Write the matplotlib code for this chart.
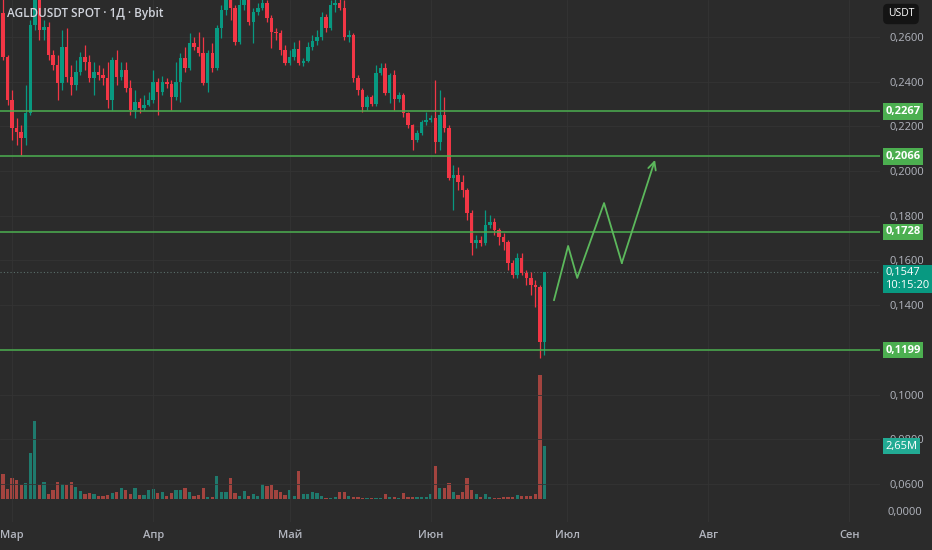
import numpy as np
import pandas as pd
import matplotlib
matplotlib.use('Agg')
import matplotlib.pyplot as plt
import matplotlib.transforms as mtransforms

plt.rcParams['font.family'] = ['Open Sans', 'DejaVu Sans']

# daily candles, AGLD/USDT, starting 28 Feb
start_date = '2024-02-28'
first_open = 0.2707
closes = [0.2510, 0.2318, 0.2193, 0.2175, 0.2148, 0.2260, 0.2654, 0.2801, 0.2631, 0.2645,
          0.2519, 0.2475, 0.2394, 0.2555, 0.2421, 0.2385, 0.2443, 0.2510, 0.2488, 0.2417,
          0.2443, 0.2430, 0.2417, 0.2318, 0.2497, 0.2421, 0.2452, 0.2372, 0.2273, 0.2309,
          0.2282, 0.2296, 0.2318, 0.2399, 0.2354, 0.2399, 0.2390, 0.2332, 0.2399, 0.2506,
          0.2461, 0.2573, 0.2555, 0.2528, 0.2394, 0.2528, 0.2461, 0.2640, 0.2721, 0.2774,
          0.2730, 0.2578, 0.2743, 0.2801, 0.2667, 0.2712, 0.2730, 0.2752, 0.2685, 0.2622,
          0.2618, 0.2542, 0.2484, 0.2510, 0.2546, 0.2484, 0.2493, 0.2555, 0.2582, 0.2600,
          0.2689, 0.2640, 0.2743, 0.2752, 0.2730, 0.2600, 0.2609, 0.2417, 0.2363, 0.2287,
          0.2332, 0.2300, 0.2439, 0.2461, 0.2349, 0.2430, 0.2323, 0.2340, 0.2260, 0.2206,
          0.2139, 0.2170, 0.2220, 0.2229, 0.2238, 0.2130, 0.2251, 0.2193, 0.1969, 0.1983,
          0.1951, 0.1915, 0.1813, 0.1678, 0.1692, 0.1678, 0.1759, 0.1772, 0.1736, 0.1705,
          0.1683, 0.1589, 0.1535, 0.1611, 0.1544, 0.1522, 0.1490, 0.1481, 0.1235, 0.1547]
highs = [0.2788, 0.2519, 0.2363, 0.2238, 0.2206, 0.2385, 0.2676, 0.2855, 0.2833, 0.2676,
         0.2667, 0.2542, 0.2519, 0.2631, 0.2640, 0.2475, 0.2497, 0.2533, 0.2564, 0.2519,
         0.2488, 0.2475, 0.2461, 0.2488, 0.2510, 0.2542, 0.2488, 0.2488, 0.2408, 0.2363,
         0.2327, 0.2340, 0.2354, 0.2452, 0.2417, 0.2425, 0.2417, 0.2408, 0.2488, 0.2528,
         0.2555, 0.2618, 0.2600, 0.2622, 0.2600, 0.2542, 0.2573, 0.2654, 0.2743, 0.2810,
         0.2819, 0.2743, 0.2810, 0.2855, 0.2833, 0.2730, 0.2752, 0.2774, 0.2766, 0.2698,
         0.2640, 0.2631, 0.2564, 0.2542, 0.2578, 0.2587, 0.2506, 0.2578, 0.2609, 0.2631,
         0.2712, 0.2703, 0.2766, 0.2779, 0.2774, 0.2766, 0.2631, 0.2618, 0.2430, 0.2372,
         0.2340, 0.2340, 0.2475, 0.2484, 0.2484, 0.2439, 0.2452, 0.2354, 0.2349, 0.2264,
         0.2211, 0.2184, 0.2229, 0.2264, 0.2251, 0.2408, 0.2363, 0.2332, 0.2206, 0.2027,
         0.2018, 0.1983, 0.1924, 0.1826, 0.1714, 0.1710, 0.1826, 0.1804, 0.1790, 0.1745,
         0.1723, 0.1692, 0.1602, 0.1634, 0.1634, 0.1558, 0.1549, 0.1513, 0.1490, 0.1550]
lows = [0.2497, 0.2296, 0.2139, 0.2117, 0.2072, 0.2117, 0.2251, 0.2631, 0.2587, 0.2587,
        0.2497, 0.2452, 0.2318, 0.2363, 0.2399, 0.2340, 0.2363, 0.2430, 0.2452, 0.2399,
        0.2340, 0.2408, 0.2385, 0.2282, 0.2273, 0.2385, 0.2408, 0.2354, 0.2251, 0.2238,
        0.2260, 0.2273, 0.2291, 0.2305, 0.2251, 0.2340, 0.2372, 0.2273, 0.2318, 0.2309,
        0.2443, 0.2452, 0.2542, 0.2515, 0.2385, 0.2354, 0.2443, 0.2452, 0.2596, 0.2698,
        0.2676, 0.2564, 0.2569, 0.2721, 0.2654, 0.2573, 0.2698, 0.2721, 0.2667, 0.2551,
        0.2587, 0.2519, 0.2475, 0.2475, 0.2497, 0.2475, 0.2470, 0.2488, 0.2542, 0.2564,
        0.2587, 0.2622, 0.2631, 0.2712, 0.2721, 0.2587, 0.2578, 0.2399, 0.2340, 0.2264,
        0.2273, 0.2291, 0.2291, 0.2430, 0.2340, 0.2305, 0.2273, 0.2309, 0.2242, 0.2193,
        0.2094, 0.2130, 0.2162, 0.2206, 0.2220, 0.2081, 0.2094, 0.2175, 0.1960, 0.1826,
        0.1915, 0.1884, 0.1781, 0.1625, 0.1656, 0.1665, 0.1669, 0.1745, 0.1714, 0.1669,
        0.1647, 0.1558, 0.1522, 0.1522, 0.1535, 0.1490, 0.1446, 0.1392, 0.1164, 0.1177]
# volume in millions of AGLD
volumes = [1.25, 0.50, 1.05, 0.95, 0.70, 0.80, 2.30, 3.90, 0.70, 0.85,
           0.25, 0.45, 0.85, 0.75, 0.70, 0.85, 0.60, 0.40, 0.25, 0.30,
           0.25, 0.15, 0.15, 0.20, 0.30, 0.35, 0.55, 0.45, 0.25, 0.55,
           0.20, 0.20, 0.45, 0.50, 0.30, 0.35, 0.15, 0.30, 0.45, 0.45,
           0.55, 0.35, 0.15, 0.20, 0.55, 0.10, 0.10, 1.15, 0.35, 0.35,
           1.05, 0.30, 0.15, 0.40, 0.15, 0.25, 0.15, 0.75, 0.65, 0.70,
           0.45, 0.35, 0.20, 0.45, 0.15, 1.40, 0.25, 0.25, 0.35, 0.30,
           0.15, 0.05, 0.05, 0.10, 0.35, 0.35, 0.15, 0.10, 0.10, 0.05,
           0.05, 0.05, 0.05, 0.05, 0.25, 0.10, 0.10, 0.05, 0.30, 0.10,
           0.10, 0.10, 0.10, 0.10, 0.25, 1.65, 0.55, 0.55, 0.80, 0.35,
           0.20, 0.35, 1.05, 0.45, 0.25, 0.10, 0.25, 0.10, 0.05, 0.05,
           0.10, 0.10, 0.10, 0.20, 0.15, 0.15, 0.15, 0.25, 6.20, 2.65]

levels = [0.2267, 0.2066, 0.1728, 0.1199]
last_price = 0.1547
countdown = '10:15:20'
volume_label = '2,65M'
price_ticks = [0.26, 0.24, 0.22, 0.20, 0.18, 0.16, 0.14, 0.10, 0.08, 0.06]
month_labels = ['Мар', 'Апр', 'Май', 'Июн', 'Июл', 'Авг', 'Сен']

# hand-drawn forecast zigzag (day index, price)
path_days = [121.1, 124.2, 126.2, 132.1, 136.0, 143.3]
path_prices = [0.1423, 0.1665, 0.1522, 0.1857, 0.1589, 0.2050]

BG = '#2b2b2b'
GRID = '#343434'
UP, DOWN = '#089981', '#f23645'
VUP, VDOWN = '#1f7a6d', '#a3443f'
LEVEL = '#4caf50'
TXT = '#b2b5be'

def fmt(v):
    return f'{v:.4f}'.replace('.', ',')

dates = pd.date_range(start_date, periods=len(closes), freq='D')
x = np.arange(len(closes))
closes = np.array(closes)
opens = np.concatenate([[first_open], closes[:-1]])
rising = closes >= opens
body = closes - opens
body = np.where(np.abs(body) < 0.0003, np.where(rising, 0.0003, -0.0003), body)

fig = plt.figure(figsize=(9.32, 5.5), dpi=100)
fig.patch.set_facecolor(BG)
ax = fig.add_axes([0, 1 - 522 / 550, 880 / 932, 522 / 550])
vol_ax = ax.twinx()
vol_ax.set_zorder(0)
ax.set_zorder(1)
ax.patch.set_visible(False)
vol_ax.patch.set_facecolor(BG)

# volume
vol_ax.bar(x, volumes, width=0.72, color=np.where(rising, VUP, VDOWN), linewidth=0)
vol_ax.set_ylim(-1.15, 24.95)
vol_ax.set_yticks([])

# candles
colors = np.where(rising, UP, DOWN)
ax.vlines(x, lows, highs, colors=colors, linewidth=0.9, zorder=3)
ax.bar(x, body, bottom=opens, width=0.76, color=colors, linewidth=0, zorder=4)

ax.set_xlim(-3 / 4.55, 877 / 4.55)
ax.set_ylim(0.0430, 0.27655)

month_starts = pd.date_range('2024-03-01', periods=len(month_labels), freq='MS')
ax.set_xticks([(d - dates[0]).days for d in month_starts])
ax.set_xticklabels(month_labels)
ax.yaxis.tick_right()
ax.set_yticks(price_ticks)
ax.set_yticklabels([fmt(v) for v in price_ticks])
ax.tick_params(axis='both', length=0, colors=TXT, labelsize=8)
ax.tick_params(axis='y', pad=7)
ax.tick_params(axis='x', pad=6)
for lab in ax.get_xticklabels():
    lab.set_fontweight('semibold')
ax.grid(True, color=GRID, linewidth=0.6)
for a in (ax, vol_ax):
    for s in a.spines.values():
        s.set_visible(False)

right = mtransforms.blended_transform_factory(ax.transAxes, ax.transData)

# support / resistance levels with price tags
for lv in levels:
    ax.axhline(lv, color=LEVEL, linewidth=1.1, zorder=5)
    ax.text(1.006, lv, fmt(lv), transform=right, ha='left', va='center', fontsize=8,
            fontweight='bold', color='white', clip_on=False, zorder=10,
            bbox=dict(boxstyle='square,pad=0.25', fc=LEVEL, ec='none'))

# last price line and tag
ax.axhline(last_price, color='#5a6f6b', linewidth=0.8, linestyle=(0, (1, 2)), zorder=2)
tag_tr = mtransforms.offset_copy(right, fig=fig, y=5, units='dots')
ax.text(1.006, last_price, fmt(last_price) + '\n' + countdown, transform=tag_tr,
        ha='left', va='top', fontsize=8, color='white', linespacing=1.15,
        clip_on=False, zorder=10,
        bbox=dict(boxstyle='square,pad=0.2', fc=UP, ec='none'))

# last volume tag, drawn in the price axes so it covers the price labels
vright = mtransforms.blended_transform_factory(ax.transAxes, vol_ax.transData)
ax.text(1.006, volumes[-1], volume_label, transform=vright, ha='left', va='center',
        fontsize=8, color='white', clip_on=False, zorder=10,
        bbox=dict(boxstyle='square,pad=0.25', fc='#22ab94', ec='none'))
fig.text(888 / 932, 1 - 512 / 550, '0,0000', ha='left', va='center', fontsize=8, color=TXT)

# forecast zigzag
ax.plot(path_days[:-1], path_prices[:-1], color='#5cb85c', linewidth=1.3, zorder=6)
ax.annotate('', xy=(path_days[-1], path_prices[-1]), xytext=(path_days[-2], path_prices[-2]),
            arrowprops=dict(arrowstyle='->', color='#5cb85c', lw=1.3, mutation_scale=14,
                            shrinkA=0, shrinkB=0), zorder=6)

fig.text(7 / 932, 1 - 14 / 550, 'AGLDUSDT SPOT · 1Д · Bybit', ha='left', va='center',
         fontsize=8.5, fontweight='semibold', color='#d1d4dc')
fig.text(901 / 932, 1 - 14 / 550, 'USDT', ha='center', va='center', fontsize=7.5,
         color='white', bbox=dict(boxstyle='round,pad=0.45', fc='#141414', ec='none'))

fig.savefig('out.png', dpi=100, facecolor=BG)
